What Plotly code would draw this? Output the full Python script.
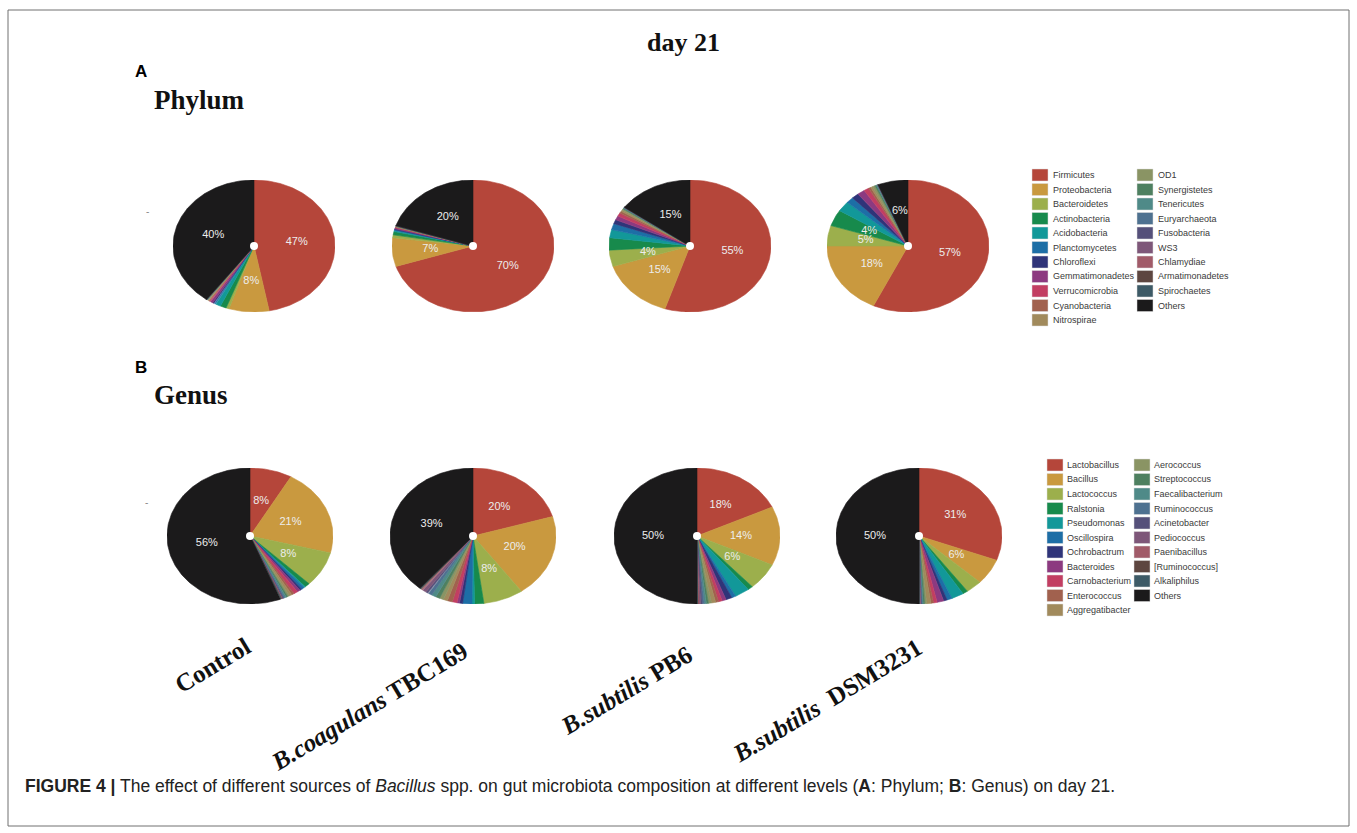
import math
import plotly.graph_objects as go

W, H = 1357, 833

# ---------------------------------------------------------------- data
groups = ["Control", "<i>B.coagulans</i> TBC169", "<i>B.subtilis</i> PB6", "<i>B.subtilis</i>  DSM3231"]

phylum_names = ["Firmicutes", "Proteobacteria", "Bacteroidetes", "Actinobacteria",
                "Acidobacteria", "Planctomycetes", "Chloroflexi", "Gemmatimonadetes",
                "Verrucomicrobia", "Cyanobacteria", "Nitrospirae", "OD1", "Synergistetes",
                "Tenericutes", "Euryarchaeota", "Fusobacteria", "WS3", "Chlamydiae",
                "Armatimonadetes", "Spirochaetes", "Others"]

genus_names = ["Lactobacillus", "Bacillus", "Lactococcus", "Ralstonia", "Pseudomonas",
               "Oscillospira", "Ochrobactrum", "Bacteroides", "Carnobacterium",
               "Enterococcus", "Aggregatibacter", "Aerococcus", "Streptococcus",
               "Faecalibacterium", "Ruminococcus", "Acinetobacter", "Pediococcus",
               "Paenibacillus", "[Ruminococcus]", "Alkaliphilus", "Others"]

# relative abundance (%) per group, in the order of the name lists
phylum_control = [47.0, 8.0, 0.6, 1.2, 1.0, 0.3, 0.4, 0.5, 0.2, 0.2, 0.2, 0.1, 0.1,
                  0.05, 0.05, 0.02, 0.02, 0.02, 0.02, 0.02, 40.0]
phylum_tbc169 = [70.0, 7.0, 0.7, 0.8, 0.3, 0.2, 0.2, 0.3, 0.1, 0.1, 0.1, 0.05, 0.05,
                 0.02, 0.02, 0.02, 0.02, 0.01, 0.005, 0.005, 20.0]
phylum_pb6 = [55.0, 15.0, 4.0, 3.0, 2.0, 1.5, 1.0, 1.0, 0.8, 0.5, 0.4, 0.3, 0.2,
              0.1, 0.1, 0.05, 0.02, 0.01, 0.01, 0.01, 15.0]
phylum_dsm3231 = [57.0, 18.0, 5.0, 4.0, 2.5, 1.5, 1.4, 1.5, 1.0, 0.5, 0.4, 0.5, 0.3,
                  0.2, 0.1, 0.05, 0.02, 0.01, 0.01, 0.01, 6.0]

genus_control = [8.2, 20.8, 8.4, 1.0, 0.3, 0.6, 0.4, 0.6, 0.8, 0.5, 0.5, 0.4, 0.3,
                 0.3, 0.3, 0.2, 0.1, 0.1, 0.1, 0.1, 56.0]
genus_tbc169 = [20.4, 19.7, 7.8, 1.8, 0.5, 1.8, 0.6, 0.5, 0.9, 1.0, 0.8, 0.8, 0.8,
                0.9, 0.7, 0.6, 0.7, 0.3, 0.2, 0.2, 39.0]
genus_pb6 = [18.0, 14.0, 6.4, 1.0, 2.9, 0.8, 1.2, 0.8, 0.7, 0.6, 0.8, 0.6, 0.4,
             0.4, 0.4, 0.3, 0.3, 0.2, 0.1, 0.1, 50.0]
genus_dsm3231 = [30.8, 6.1, 3.2, 1.0, 2.4, 1.0, 0.7, 1.3, 0.7, 0.5, 0.8, 0.4, 0.3,
                 0.2, 0.2, 0.1, 0.1, 0.1, 0.05, 0.05, 50.0]

phylum_values = [phylum_control, phylum_tbc169, phylum_pb6, phylum_dsm3231]
genus_values = [genus_control, genus_tbc169, genus_pb6, genus_dsm3231]

# ---------------------------------------------------------------- styles
palette = ["#B5463A", "#C9993F", "#9CAF4C", "#178A4C", "#129899", "#1D6EA6",
           "#2F3479", "#8C3A80", "#C23E62", "#A1614E", "#A18A5C", "#8A9464",
           "#4E8060", "#4F8A88", "#4E7190", "#55507A", "#7E5779", "#A15B69",
           "#5D4640", "#3D5A66", "#1B1A1B"]

LABEL_FONT = dict(family="Liberation Sans, Arial, sans-serif", size=11, color="#EDEDED")
SERIF = "Liberation Serif, Times New Roman, serif"
SANS = "Liberation Sans, Arial, sans-serif"

# pie placement in pixels: centre x list, centre y, radii
phylum_cx = [254, 473, 690, 908]
phylum_cy, phylum_rx, phylum_ry = 246, 81, 66
genus_cx = [250, 473, 697, 919]
genus_cy, genus_rx, genus_ry = 536, 83, 68

LABEL_R = 0.53
LABEL_MIN = 3.5

fig = go.Figure()
axis_count = [0]


def add_pie(values, cx, cy, rx, ry):
    axis_count[0] += 1
    k = axis_count[0]
    xa = "x" if k == 1 else f"x{k}"
    ya = "y" if k == 1 else f"y{k}"
    xkey = "xaxis" if k == 1 else f"xaxis{k}"
    ykey = "yaxis" if k == 1 else f"yaxis{k}"
    fig.layout[xkey] = dict(domain=[(cx - rx) / W, (cx + rx) / W], range=[-1, 1],
                            visible=False, fixedrange=True, anchor=ya)
    fig.layout[ykey] = dict(domain=[1 - (cy + ry) / H, 1 - (cy - ry) / H], range=[-1, 1],
                            visible=False, fixedrange=True, anchor=xa)
    total = sum(values)
    start = 0.0
    lx, ly, lt = [], [], []
    for v, col in zip(values, palette):
        frac0 = start / total
        frac1 = (start + v) / total
        start += v
        a0, a1 = frac0 * 2 * math.pi, frac1 * 2 * math.pi
        n = max(2, int((a1 - a0) * 180 / math.pi) + 2)
        xs, ys = [0.0], [0.0]
        for i in range(n + 1):
            a = a0 + (a1 - a0) * i / n
            xs.append(math.sin(a))
            ys.append(math.cos(a))
        xs.append(0.0)
        ys.append(0.0)
        fig.add_trace(go.Scatter(x=xs, y=ys, mode="lines", fill="toself", fillcolor=col,
                                 line=dict(color=col, width=0.6), hoverinfo="skip",
                                 showlegend=False, xaxis=xa, yaxis=ya))
        if v / total * 100 >= LABEL_MIN:
            am = (a0 + a1) / 2
            lx.append(LABEL_R * math.sin(am))
            ly.append(LABEL_R * math.cos(am))
            lt.append(f"{v / total * 100:.0f}%")
    fig.add_trace(go.Scatter(x=lx, y=ly, text=lt, mode="text", textfont=LABEL_FONT,
                             textposition="middle center", hoverinfo="skip",
                             showlegend=False, xaxis=xa, yaxis=ya))
    # small white hub at the centre
    fig.add_trace(go.Scatter(x=[0], y=[0], mode="markers",
                             marker=dict(color="white", size=8, line=dict(width=0)),
                             hoverinfo="skip", showlegend=False, xaxis=xa, yaxis=ya))


for vals, cx in zip(phylum_values, phylum_cx):
    add_pie(vals, cx, phylum_cy, phylum_rx, phylum_ry)
for vals, cx in zip(genus_values, genus_cx):
    add_pie(vals, cx, genus_cy, genus_rx, genus_ry)

shapes = []
annotations = []


def px(x):
    return x / W


def py(y):
    return 1 - y / H


def legend_block(names, col_x, text_dx, top_y, rows_first):
    step = 14.5
    for i, (name, col) in enumerate(zip(names, palette)):
        c = 0 if i < rows_first else 1
        r = i if i < rows_first else i - rows_first
        x0 = col_x[c]
        yc = top_y + r * step
        shapes.append(dict(type="rect", xref="paper", yref="paper",
                           x0=px(x0), x1=px(x0 + 16), y0=py(yc + 6), y1=py(yc - 6),
                           fillcolor=col, line=dict(color="#DDDDDD", width=0.5)))
        annotations.append(dict(text=name, x=px(x0 + text_dx), y=py(yc), xref="paper",
                                yref="paper", xanchor="left", yanchor="middle",
                                showarrow=False,
                                font=dict(family=SANS, size=9, color="#3A3A3A")))


legend_block(phylum_names, [1032, 1137], 19, 175, 11)
legend_block(genus_names, [1047, 1134], 18, 465, 11)

# frame around the figure
shapes.append(dict(type="rect", xref="paper", yref="paper", x0=px(8), x1=px(1349),
                   y0=py(826), y1=py(10), line=dict(color="#707070", width=1)))


def note(text, x, y, size, family, color="#111111", xanchor="center", angle=0):
    annotations.append(dict(text=text, x=px(x), y=py(y), xref="paper", yref="paper",
                            xanchor=xanchor, yanchor="middle", showarrow=False,
                            textangle=angle, font=dict(family=family, size=size, color=color)))


note("<b>day 21</b>", 683, 42, 26, SERIF)
note("<b>A</b>", 141, 72, 17, SANS, color="#000000")
note("<b>Phylum</b>", 152, 100, 27, SERIF, xanchor="left")
note("<b>B</b>", 141, 367, 17, SANS, color="#000000")
note("<b>Genus</b>", 152, 395, 27, SERIF, xanchor="left")
note("-", 147, 211, 10, SANS, color="#888888")
note("-", 146, 502, 10, SANS, color="#888888")

group_pos = [(212, 665), (369, 706), (626, 690), (827, 700)]
for g, (gx, gy) in zip(groups, group_pos):
    note(f"<b>{g}</b>", gx, gy, 25, SERIF, angle=-31)

note("<b>FIGURE 4 |</b> The effect of different sources of <i>Bacillus</i> spp. on gut "
     "microbiota composition at different levels (<b>A</b>: Phylum; <b>B</b>: Genus) on day 21.",
     23, 786, 17.5, SANS, color="#222222", xanchor="left")

fig.update_layout(width=W, height=H, margin=dict(l=0, r=0, t=0, b=0),
                  paper_bgcolor="white", plot_bgcolor="rgba(0,0,0,0)",
                  shapes=shapes, annotations=annotations, showlegend=False)

fig.write_html("out.html")
